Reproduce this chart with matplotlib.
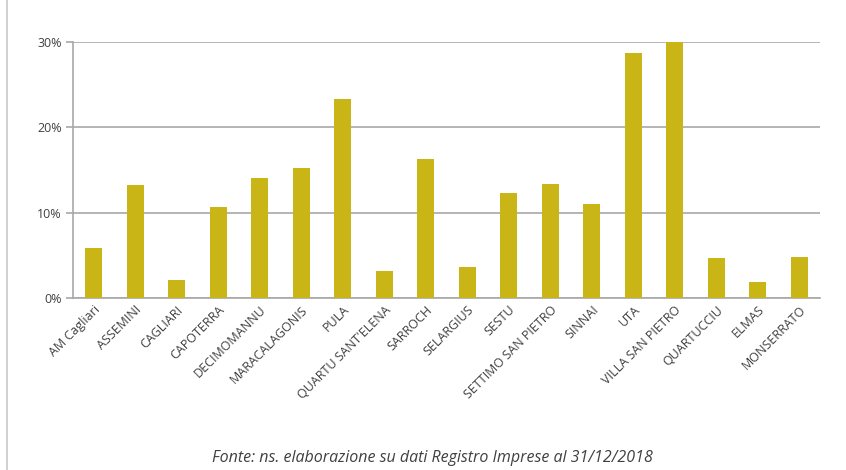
import matplotlib
matplotlib.use("Agg")
import matplotlib.pyplot as plt
from matplotlib.ticker import FuncFormatter
from matplotlib.lines import Line2D

categories = ["AM Cagliari", "ASSEMINI", "CAGLIARI", "CAPOTERRA", "DECIMOMANNU",
              "MARACALAGONIS", "PULA", "QUARTU SANT'ELENA", "SARROCH", "SELARGIUS",
              "SESTU", "SETTIMO SAN PIETRO", "SINNAI", "UTA", "VILLA SAN PIETRO",
              "QUARTUCCIU", "ELMAS", "MONSERRATO"]
values = [5.8, 13.2, 2.1, 10.7, 14.1, 15.2, 23.3, 3.1, 16.3, 3.6,
          12.3, 13.4, 11.0, 28.7, 30.0, 4.7, 1.8, 4.8]
yticks = [0, 10, 20, 30]
caption = "Fonte: ns. elaborazione su dati Registro Imprese al 31/12/2018"

plt.rcParams['font.family'] = ['Open Sans', 'DejaVu Sans']
text_color = '#404040'
grid_color = '#a8a8a8'

fig = plt.figure(figsize=(8.46, 4.70), dpi=100)
ax = fig.add_axes([73/846, 1-297.7/470, (820-73)/846, (297.7-42.3)/470])

x = list(range(len(categories)))
ax.bar(x, values, width=0.4, color='#C9B516', zorder=3)

ax.set_xlim(-0.5, len(categories) - 0.5)
ax.set_ylim(0, 30)
ax.set_yticks(yticks)
ax.yaxis.set_major_formatter(FuncFormatter(lambda v, p: f"{int(v)}%"))
ax.grid(axis='y', color=grid_color, linewidth=1.2, zorder=0)
ax.set_axisbelow(True)

for s in ['top', 'right']:
    ax.spines[s].set_visible(False)
for s in ['left', 'bottom']:
    ax.spines[s].set_color(grid_color)
    ax.spines[s].set_linewidth(1.2)

ax.tick_params(axis='y', length=5, color=grid_color, width=1.2, labelsize=9,
               labelcolor=text_color, pad=3)
ax.tick_params(axis='x', length=0, labelsize=9, labelcolor=text_color, pad=4)
ax.set_xticks(x)
ax.set_xticklabels(categories, rotation=45, ha='right', rotation_mode='anchor')

fig.text(432/846, 1-458/470, caption, ha='center', va='center', fontsize=11.5,
         style='italic', color=text_color)

fig.add_artist(Line2D([7/846, 7/846], [0, 1], transform=fig.transFigure,
                      color='#c8c8c8', linewidth=1.2))

fig.savefig("out.png", dpi=100)
